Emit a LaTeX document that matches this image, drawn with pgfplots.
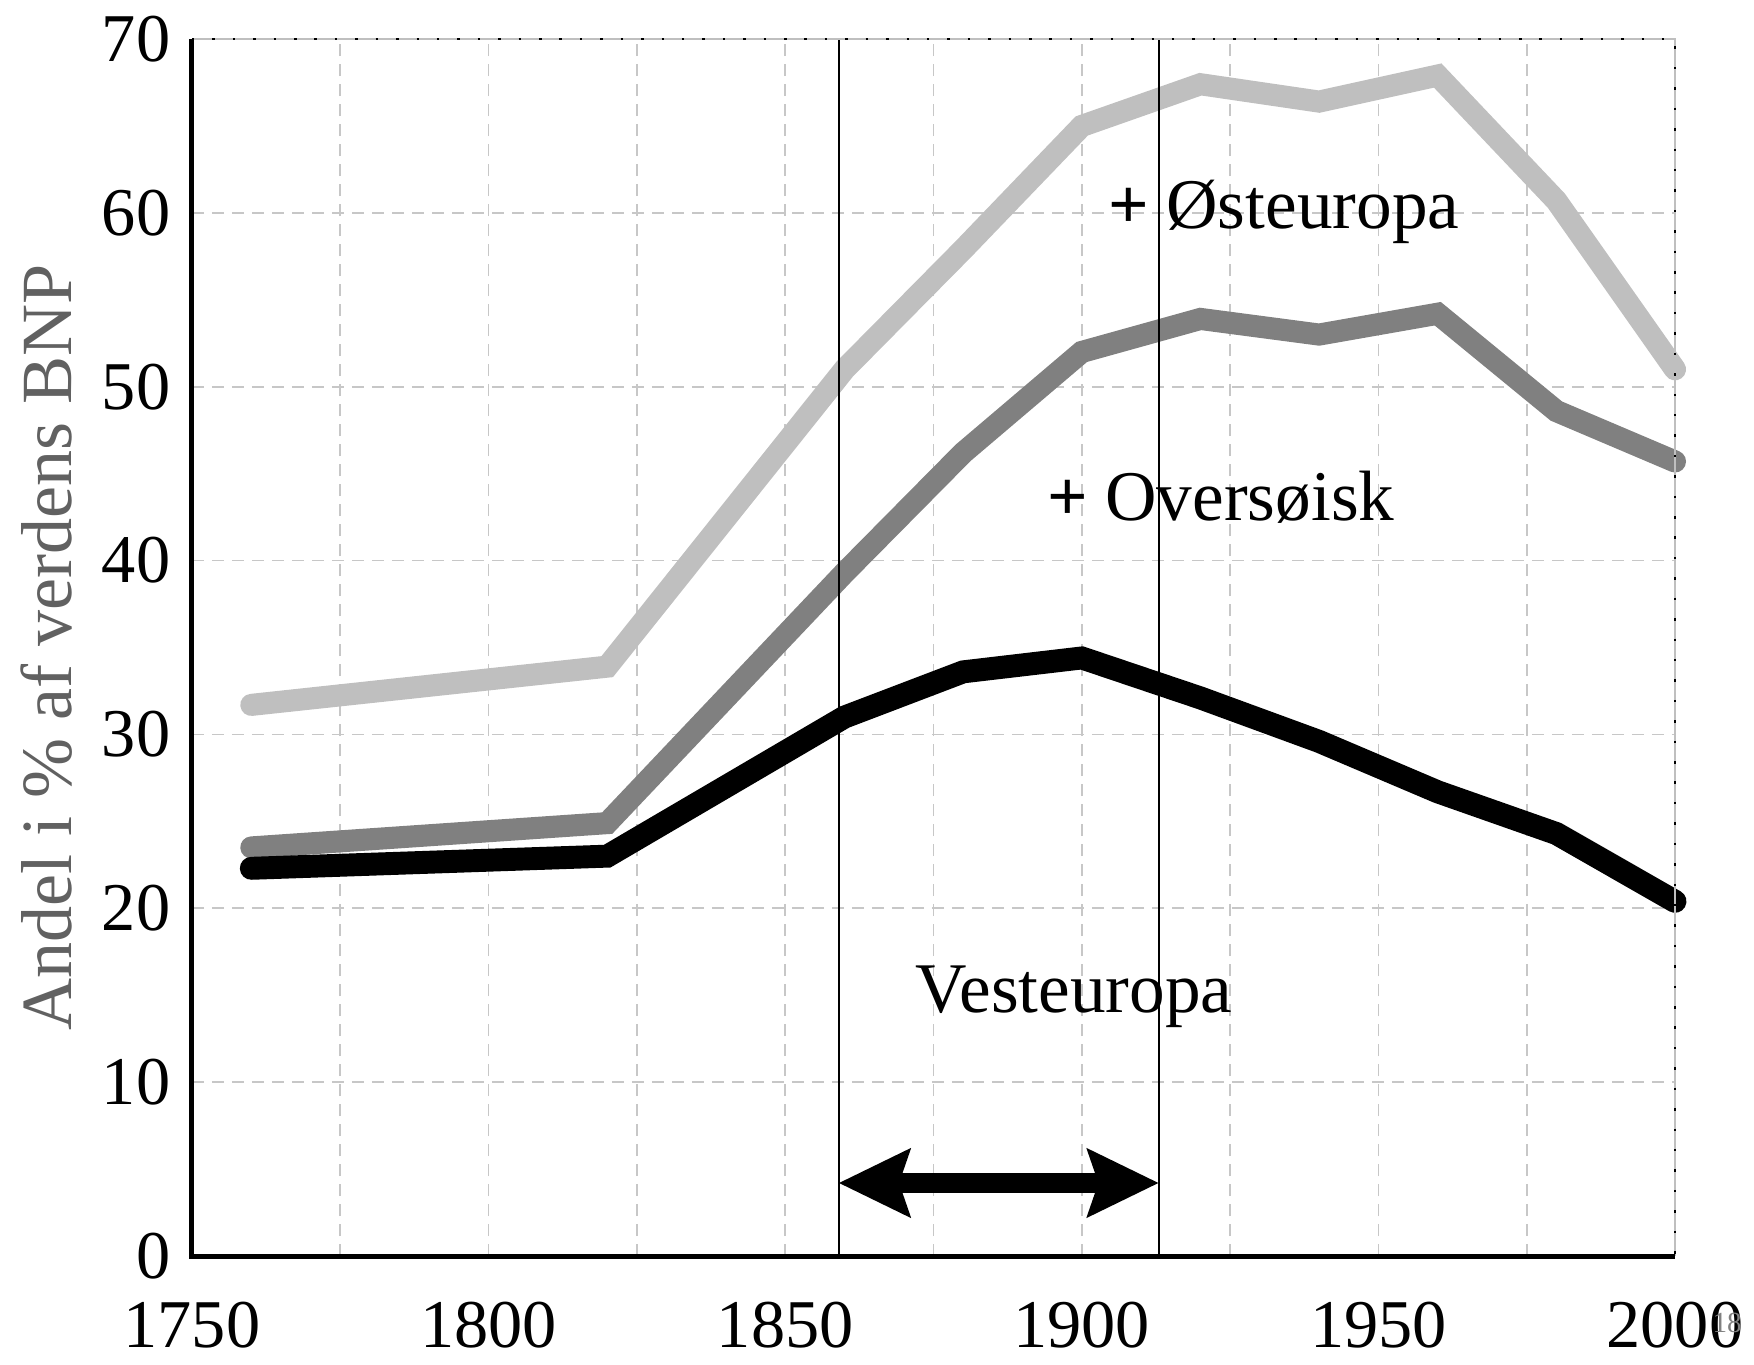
\documentclass[border=0pt]{standalone}
\usepackage{fontspec}
\setmainfont{Liberation Serif}
\usepackage{pgfplots}
\usepackage{pgfplotstable}
\pgfplotsset{compat=1.18}
\usetikzlibrary{arrows.meta}

\pgfplotstableread{
year west over east
1760 22.3 23.5 31.7
1820 23.0 24.9 33.9
1860 31.0 39.3 51.0
1880 33.6 46.2 57.9
1900 34.4 52.0 65.0
1920 32.1 53.9 67.4
1940 29.6 53.0 66.4
1960 26.7 54.2 67.9
1980 24.3 48.6 60.7
2000 20.4 45.7 51.0
}\datatab

\begin{document}
\begin{tikzpicture}
\begin{axis}[
  scale only axis,
  width=355.92pt, height=292.08pt,
  xmin=1750, xmax=2000, ymin=0, ymax=70,
  clip=false,
  axis line style={draw=none},
  xtick={1750,1800,1850,1900,1950,2000},
  minor xtick={1775,1825,1875,1925,1975},
  ytick={0,10,20,30,40,50,60,70},
  major tick length=0pt, minor tick length=0pt,
  grid=both,
  major grid style={black!22, line width=0.4pt, dash pattern=on 2.9pt off 1.9pt},
  minor grid style={black!22, line width=0.4pt, dash pattern=on 2.9pt off 1.9pt},
  /pgf/number format/assume math mode=true,
  /pgf/number format/1000 sep={},
  tick label style={font=\fontsize{16.4}{19}\selectfont, inner sep=0pt},
  xticklabel style={anchor=center, yshift=-16.7pt},
  yticklabel style={anchor=east, xshift=-5pt},
  ylabel={Andel i \% af verdens BNP},
  ylabel style={font=\fontsize{17.3}{20}\selectfont, text=black!62, at={(rel axis cs:0,0.5)}, anchor=center, yshift=35pt},
]
\addplot[black!25, line width=5.3pt, line cap=round, line join=miter] table[x=year, y=east]{\datatab};
\addplot[black!50, line width=5.3pt, line cap=round, line join=miter] table[x=year, y=over]{\datatab};
\addplot[black, line width=5.5pt, line cap=round, line join=miter] table[x=year, y=west]{\datatab};

\draw[black, line width=0.5pt] (axis cs:1859,0) -- (axis cs:1859,70);
\draw[black, line width=0.5pt] (axis cs:1913,0) -- (axis cs:1913,70);
\draw[black, line width=5pt, {Stealth[length=17pt,width=16pt,inset=2.5pt]}-{Stealth[length=17pt,width=16pt,inset=2.5pt]}] (axis cs:1859,4.2) -- (axis cs:1913,4.2);

\node[anchor=base west, inner sep=0pt, font=\fontsize{17.1}{19}\selectfont] at (axis cs:1904.3,59.1) {\textbf{+} Østeuropa};
\node[anchor=base west, inner sep=0pt, font=\fontsize{17.1}{19}\selectfont] at (axis cs:1894.0,42.3) {\textbf{+} Oversøisk};
\node[anchor=base west, inner sep=0pt, font=\fontsize{17.1}{19}\selectfont] at (axis cs:1871.9,14.0) {Vesteuropa};

\draw[black!25, line width=0.5pt] (rel axis cs:0,1) -- (rel axis cs:1,1) -- (rel axis cs:1,0);
\draw[black, line width=0.6pt, dash pattern=on 0.6pt off 4.3pt] (rel axis cs:0,1) -- (rel axis cs:1,1) -- (rel axis cs:1,0);
\draw[black, line width=1.2pt] (rel axis cs:0,1) -- (rel axis cs:0,0) -- (rel axis cs:1,0);

\node[text=black!50, font=\fontsize{7}{8}\selectfont, anchor=center, inner sep=0pt] at (axis cs:2008.8,-3.85) {18};
\coordinate (sw) at (rel axis cs:0,0);
\end{axis}
\pgfresetboundingbox
\path[use as bounding box] ([xshift=-46.08pt, yshift=-25.92pt]sw) rectangle ([xshift=374.88pt, yshift=301.44pt]sw);
\end{tikzpicture}
\end{document}
